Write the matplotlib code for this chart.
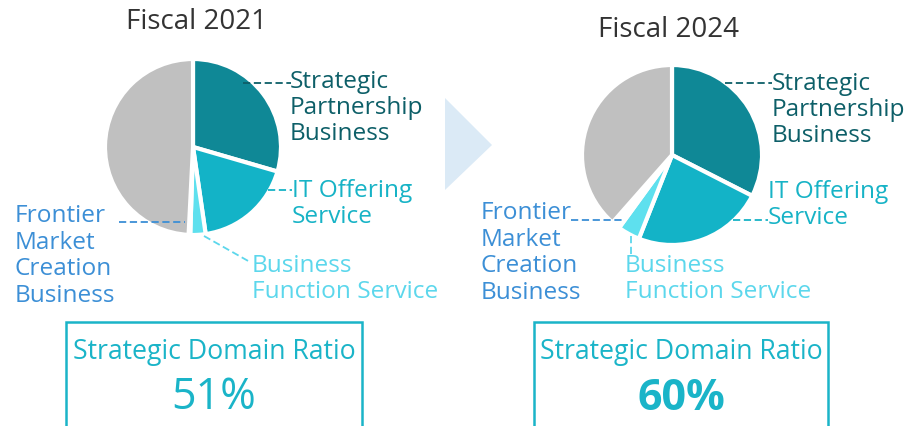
import matplotlib
matplotlib.use("Agg")
import matplotlib.pyplot as plt
from matplotlib.patches import Polygon, Rectangle

plt.rcParams['font.family'] = ['Open Sans', 'DejaVu Sans']

W, H = 907, 426

# shares (percent), clockwise from 12 o'clock
segments = ["Strategic Partnership Business", "IT Offering Service",
            "Business Function Service", "Frontier Market Creation Business", "Other"]
share_2021 = [29.5, 18.2, 2.8, 0.3, 49.2]
share_2024 = [32.5, 23.5, 4.0, 1.5, 38.5]
ratio_2021 = "51%"
ratio_2024 = "60%"

slice_colors = ["#0f8896", "#13b3c7", "#5ee0ee", "#ffffff", "#c0c0c0"]
label_colors = {"sp": "#0d5f68", "it": "#17b3c6", "bf": "#5cd7ec", "fr": "#3c8fd6"}
box_color = "#1ab4c8"

fig = plt.figure(figsize=(W / 100, H / 100), dpi=100)
ax = fig.add_axes([0, 0, 1, 1])


def Y(y):
    return H - y


def draw_pie(vals, cx, cy, r):
    ax.pie(vals, colors=slice_colors, startangle=90, counterclock=False,
           center=(cx, Y(cy)), radius=r,
           wedgeprops=dict(edgecolor="white", linewidth=3))


def lead(pts, color):
    xs = [p[0] for p in pts]
    ys = [Y(p[1]) for p in pts]
    ax.plot(xs, ys, color=color, lw=1.3, ls=(0, (4, 2)))


def label(x, y, txt, color):
    ax.text(x, Y(y), txt, color=color, fontsize=17.6, ha="left", va="center",
            linespacing=1.13)


# ---- Fiscal 2021 ----
draw_pie(share_2021, 193, 147, 88)
ax.text(197, Y(22), "Fiscal 2021", fontsize=20, ha="center", va="center", color="#333333")
lead([(243, 83), (291, 83)], label_colors["sp"])
label(290, 108, "Strategic\nPartnership\nBusiness", label_colors["sp"])
lead([(268, 190), (292, 190)], label_colors["it"])
label(292, 204, "IT Offering\nService", label_colors["it"])
lead([(204, 236), (250, 262)], label_colors["bf"])
label(252, 279, "Business\nFunction Service", label_colors["bf"])
lead([(119, 222), (185, 222)], label_colors["fr"])
label(15, 256, "Frontier\nMarket\nCreation\nBusiness", label_colors["fr"])

# ---- Fiscal 2024 ----
draw_pie(share_2024, 672, 155, 90)
ax.text(668, Y(30), "Fiscal 2024", fontsize=20, ha="center", va="center", color="#333333")
lead([(725, 83), (772, 83)], label_colors["sp"])
label(772, 110, "Strategic\nPartnership\nBusiness", label_colors["sp"])
lead([(733, 220), (768, 220)], label_colors["it"])
label(768, 205, "IT Offering\nService", label_colors["it"])
lead([(631, 236), (631, 256)], label_colors["bf"])
label(625, 279, "Business\nFunction Service", label_colors["bf"])
lead([(571, 220), (625, 220)], label_colors["fr"])
label(481, 253, "Frontier\nMarket\nCreation\nBusiness", label_colors["fr"])

# arrow between the years
ax.add_patch(Polygon([(445, Y(98)), (445, Y(190)), (492, Y(145))],
                     closed=True, facecolor="#dbeaf6", edgecolor="none"))

# ratio boxes (open at the bottom, cut by the figure edge)
for x0, x1, cx, txt, wt in [(66, 362, 214, ratio_2021, "normal"),
                            (534, 828, 681, ratio_2024, "bold")]:
    ax.add_patch(Rectangle((x0, Y(440)), x1 - x0, 440 - 322, fill=False,
                           edgecolor=box_color, lw=1.8))
    ax.text(cx, Y(352), "Strategic Domain Ratio", color=box_color, fontsize=19.2,
            ha="center", va="center")
    ax.text(cx, Y(398), txt, color=box_color, fontsize=31, ha="center",
            va="center", fontweight=wt)

ax.set_xlim(0, W)
ax.set_ylim(0, H)
ax.set_aspect("auto")
ax.axis("off")

fig.savefig("out.png", dpi=100)
